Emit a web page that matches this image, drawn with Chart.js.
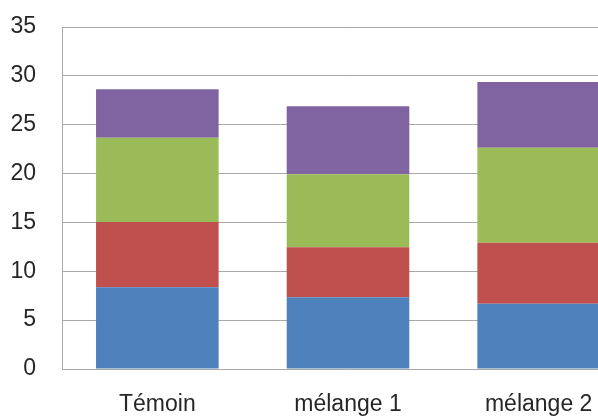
<!DOCTYPE html>
<html>
<head>
<meta charset="utf-8">
<script src="https://cdn.jsdelivr.net/npm/chart.js@4/dist/chart.umd.min.js"></script>
<style>
  html, body { margin: 0; padding: 0; background: #fff; overflow: hidden; width: 598px; height: 417px; }
  canvas { display: block; }
</style>
</head>
<body>
<canvas id="c" width="634" height="417"></canvas>
<script>
// Categories and stacked values
const categories = ['Témoin', 'mélange 1', 'mélange 2'];
const serie1 = [8.37, 7.35, 6.67];
const serie2 = [6.68, 5.11, 6.26];
const serie3 = [8.61, 7.46, 9.71];
const serie4 = [4.97, 6.98, 6.74];
const yTicks = [0, 5, 10, 15, 20, 25, 30, 35];

const colors = ['#4F81BD', '#C0504D', '#9BBB59', '#8064A2'];
const seriesList = [serie1, serie2, serie3, serie4];

const font = { family: "'Liberation Sans', Arial, sans-serif", size: 23 };

new Chart(document.getElementById('c'), {
  type: 'bar',
  data: {
    labels: categories,
    datasets: seriesList.map((vals, i) => ({
      label: 'Série ' + (i + 1),
      data: vals,
      backgroundColor: colors[i],
      borderWidth: 0,
      categoryPercentage: 1,
      barPercentage: 0.643
    }))
  },
  options: {
    responsive: false,
    animation: false,
    layout: { padding: { top: 27, right: 0, bottom: 0, left: 0 } },
    plugins: { legend: { display: false }, title: { display: false }, tooltip: { enabled: false } },
    scales: {
      x: {
        stacked: true,
        grid: { display: false, drawTicks: false },
        border: { display: true, color: '#a8a8a8', width: 1 },
        ticks: { font: font, color: '#262626', padding: 22, maxRotation: 0 },
        afterFit: (s) => { s.height = 48; }
      },
      y: {
        stacked: true,
        min: 0,
        max: 35,
        afterBuildTicks: (s) => { s.ticks = yTicks.map(v => ({ value: v })); },
        grid: { color: '#a8a8a8', lineWidth: 1, drawTicks: false },
        border: { display: true, color: '#a8a8a8', width: 1 },
        ticks: { font: font, color: '#262626', padding: 26 },
        afterFit: (s) => { s.width = 62; s.paddingTop = 0; s.paddingBottom = 0; }
      }
    }
  }
});
</script>
</body>
</html>
